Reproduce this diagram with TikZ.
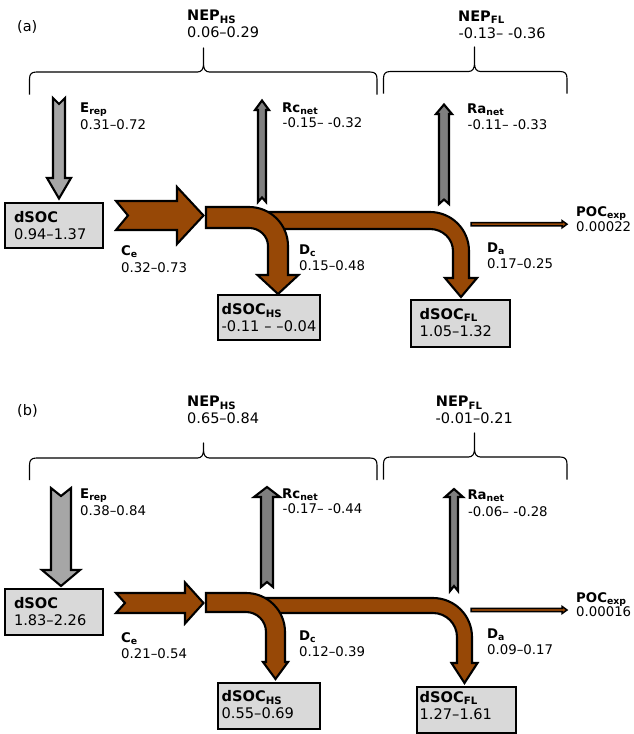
\documentclass[tikz,border=0pt]{standalone}
\usepackage{fontspec}
\setmainfont{DejaVu Sans}
\definecolor{brn}{HTML}{974806}
\definecolor{lgray}{HTML}{A6A6A6}
\definecolor{dgray}{HTML}{7F7F7F}
\definecolor{boxgray}{HTML}{D9D9D9}
\tikzset{
 blk/.style={draw=black, line width=2.1pt, line join=miter, miter limit=10},
 bandst/.style={blk, fill=brn},
 socbox/.style={draw=black, line width=2.1pt, fill=boxgray, rectangle, inner ysep=0pt, align=left, font=\fontsize{14.6}{17}\selectfont},
 lab/.style={anchor=base west, inner sep=0pt, font=\fontsize{13.3}{16}\selectfont},
 neplab/.style={anchor=base west, inner sep=0pt, font=\fontsize{14.5}{17}\selectfont},
 bracest/.style={draw=black, line width=1.1pt, line join=round},
}
% vertical block arrow: xc, ytail, ynotch, shafthalf, ybase, headhalf, ytip, style
\newcommand{\vblock}[8]{%
 \filldraw[#8] ({#1-#4},#2) -- (#1,#3) -- ({#1+#4},#2) -- ({#1+#4},#5) -- ({#1+#6},#5) -- (#1,#7) -- ({#1-#6},#5) -- ({#1-#4},#5) -- cycle;}
% horizontal block arrow: xtail, xnotch, yc, shafthalf, xbase, headhalf, xtip, style
\newcommand{\hblock}[8]{%
 \filldraw[#8] (#1,{#3-#4}) -- (#5,{#3-#4}) -- (#5,{#3-#6}) -- (#7,#3) -- (#5,{#3+#6}) -- (#5,{#3+#4}) -- (#1,{#3+#4}) -- (#2,#3) -- cycle;}
% bent band: x0, ytop, ybot, xin, xout, R, ybase, headhalf, ytip
\newcommand{\bentband}[9]{%
 \pgfmathsetmacro\bcx{#5-#6}\pgfmathsetmacro\bcy{#2+#6}%
 \pgfmathsetmacro\brx{#4-\bcx}\pgfmathsetmacro\bry{\bcy-#3}%
 \pgfmathsetmacro\bxm{(#4+#5)/2}%
 \filldraw[bandst] (#1,#2) -- (\bcx,#2) .. controls ({\bcx+0.5523*#6},#2) and (#5,{\bcy-0.5523*#6}) .. (#5,\bcy) -- (#5,#7) -- ({\bxm+#8},#7) -- (\bxm,#9) -- ({\bxm-#8},#7) -- (#4,#7) -- (#4,\bcy) .. controls (#4,{\bcy-0.5523*\bry}) and ({\bcx+0.5523*\brx},#3) .. (\bcx,#3) -- (#1,#3) -- cycle;}
% brace: xl, xr, xm, yh, ybot, ytip
\newcommand{\mybrace}[6]{%
 \draw[bracest] (#1,#5) -- (#1,{#4+7}) .. controls (#1,{#4+2}) and ({#1+2},#4) .. ({#1+7},#4) -- ({#3-6},#4) .. controls ({#3-2},#4) and (#3,{#4-3}) .. (#3,{#4-8}) -- (#3,#6) -- (#3,{#4-8}) .. controls (#3,{#4-3}) and ({#3+2},#4) .. ({#3+6},#4) -- ({#2-7},#4) .. controls ({#2-2},#4) and (#2,{#4+2}) .. (#2,{#4+7}) -- (#2,#5);}
\begin{document}
\begin{tikzpicture}[x=1pt,y=-1pt]
\useasboundingbox (0,0) rectangle (633,734);
\fill[white] (0,0) rectangle (633,734);

%================ panel (a) ================
\node[neplab] (pa) at (17,31.5) {(a)};
\mybrace{29.5}{377}{203.5}{72}{94.5}{48}
\mybrace{383.5}{567}{474.5}{71.5}{93.5}{47}
\node[neplab] (nephsA) at (187,20.7) {\textbf{NEP\textsubscript{HS}}};
\node[neplab] (nephsAv) at (187,37.3) {0.06–0.29};
\node[neplab] (nepflA) at (458,21) {\textbf{NEP\textsubscript{FL}}};
\node[neplab] (nepflAv) at (458.5,38) {-0.13– -0.36};

\vblock{59}{98}{104}{6}{178}{12}{198.5}{blk, fill=lgray}
\vblock{262}{202}{197.5}{4}{110}{7}{100.5}{blk, fill=dgray}
\vblock{444}{204}{199.5}{5}{114}{8}{104.5}{blk, fill=dgray}
\bentband{265}{212}{229}{453}{469}{39}{278}{16}{297}
\bentband{206}{207}{228}{268}{288}{39}{275}{20.5}{294}
\hblock{116}{128}{215.5}{14.5}{177}{28.5}{203.5}{blk, fill=brn}
\hblock{471}{471}{224.2}{1.7}{562}{3.6}{567}{blk, line width=1.5pt, fill=brn}

\node[socbox, minimum height=45pt, text width=80pt, inner xsep=9pt] (dsocA) at (54,225.5) {\textbf{dSOC}\\0.94–1.37};
\node[socbox, minimum height=45pt, text width=94.6pt, inner xsep=3.7pt] (hsA) at (269,317.5) {\textbf{dSOC\textsubscript{HS}}\\\mbox{-0.11 – –0.04}};
\node[socbox, minimum height=47pt, text width=81.6pt, inner xsep=8.7pt] (flA) at (460.5,323.5) {\textbf{dSOC\textsubscript{FL}}\\1.05–1.32\rule[-3pt]{0pt}{0pt}};

\node[lab] (erepA) at (80,112.7) {\textbf{E\textsubscript{rep}}};
\node[lab] (erepAv) at (80,129) {0.31–0.72};
\node[lab] (rcA) at (282,112) {\textbf{Rc\textsubscript{net}}};
\node[lab] (rcAv) at (282.5,127.5) {-0.15– -0.32};
\node[lab] (raA) at (467,113) {\textbf{Ra\textsubscript{net}}};
\node[lab] (raAv) at (467.5,129) {-0.11– -0.33};
\node[lab] (ceA) at (121,255) {\textbf{C\textsubscript{e}}};
\node[lab] (ceAv) at (121,272) {0.32–0.73};
\node[lab] (dcA) at (299,254) {\textbf{D\textsubscript{c}}};
\node[lab] (dcAv) at (299,270) {0.15–0.48};
\node[lab] (daA) at (487,252) {\textbf{D\textsubscript{a}}};
\node[lab] (daAv) at (487,268) {0.17–0.25};
\node[lab] (pocA) at (576,216) {\textbf{POC\textsubscript{exp}}};
\node[lab] (pocAv) at (576,231) {0.00022};

%================ panel (b) ================
\node[neplab] (pb) at (17,415.5) {(b)};
\mybrace{29.5}{377}{203.5}{458}{480}{443}
\mybrace{383.5}{567}{474.5}{457}{479.5}{433}
\node[neplab] (nephsB) at (187,406.7) {\textbf{NEP\textsubscript{HS}}};
\node[neplab] (nephsBv) at (187,423) {0.65–0.84};
\node[neplab] (nepflB) at (435.7,406.7) {\textbf{NEP\textsubscript{FL}}};
\node[neplab] (nepflBv) at (435.5,423.3) {-0.01–0.21};

\vblock{61}{488}{496}{10}{570}{19}{586}{blk, fill=lgray}
\vblock{267}{587}{582}{6}{497}{13}{487}{blk, fill=dgray}
\vblock{454}{591}{586}{4}{497}{9}{489}{blk, fill=dgray}
\bentband{262}{598}{613}{457}{472}{39}{663}{13}{683}
\bentband{206}{593}{612}{266}{285}{39}{662}{12.5}{679}
\hblock{116}{125}{603}{10}{185}{20.5}{203.5}{blk, fill=brn}
\hblock{471}{471}{610}{1.7}{562}{3.6}{567}{blk, line width=1.5pt, fill=brn}

\node[socbox, minimum height=46pt, text width=80pt, inner xsep=9pt] (dsocB) at (54,612) {\textbf{dSOC}\\1.83–2.26};
\node[socbox, minimum height=46pt, text width=94.6pt, inner xsep=3.7pt] (hsB) at (269,706) {\textbf{dSOC\textsubscript{HS}}\\0.55–0.69\rule[-2.7pt]{0pt}{0pt}};
\node[socbox, minimum height=46pt, text width=93.6pt, inner xsep=2.7pt] (flB) at (466.5,710) {\textbf{dSOC\textsubscript{FL}}\\1.27–1.61\rule[-9.5pt]{0pt}{0pt}};

\node[lab] (erepB) at (80,498.3) {\textbf{E\textsubscript{rep}}};
\node[lab] (erepBv) at (80,515) {0.38–0.84};
\node[lab] (rcB) at (282,498.3) {\textbf{Rc\textsubscript{net}}};
\node[lab] (rcBv) at (282.5,513.3) {-0.17– -0.44};
\node[lab] (raB) at (467.3,499) {\textbf{Ra\textsubscript{net}}};
\node[lab] (raBv) at (467.8,516) {-0.06– -0.28};
\node[lab] (ceB) at (121,642) {\textbf{C\textsubscript{e}}};
\node[lab] (ceBv) at (121,658.3) {0.21–0.54};
\node[lab] (dcB) at (299,640.7) {\textbf{D\textsubscript{c}}};
\node[lab] (dcBv) at (299,656) {0.12–0.39};
\node[lab] (daB) at (487,638.3) {\textbf{D\textsubscript{a}}};
\node[lab] (daBv) at (487,654.3) {0.09–0.17};
\node[lab] (pocB) at (576,602.3) {\textbf{POC\textsubscript{exp}}};
\node[lab] (pocBv) at (576,616.7) {0.00016};
\end{tikzpicture}
\end{document}
